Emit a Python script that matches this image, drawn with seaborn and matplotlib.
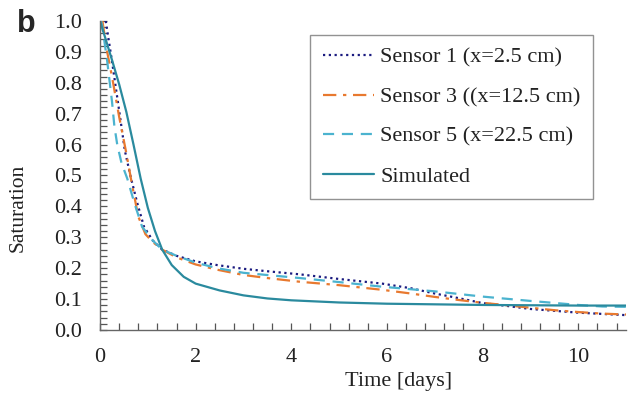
import numpy as np
import pandas as pd
import matplotlib
matplotlib.use("Agg")
import matplotlib.pyplot as plt
from matplotlib.ticker import MultipleLocator, FormatStrFormatter
import seaborn as sns

# ---- data ----
s1_t = [0.12, 0.14, 0.25, 0.4, 0.52, 0.64, 0.78, 0.92, 1.1, 1.3, 1.6, 2.0, 2.45, 3.0, 3.5,
        4.18, 5.0, 5.9, 6.5, 7.0, 7.5, 8.0, 8.5, 9.0, 9.5, 10.0, 10.5, 11.0]
s1_v = [1.0, 0.98, 0.87, 0.71, 0.58, 0.496, 0.41, 0.334, 0.29, 0.26, 0.24, 0.222, 0.21, 0.198, 0.19,
        0.18, 0.165, 0.15, 0.135, 0.118, 0.103, 0.087, 0.078, 0.068, 0.062, 0.056, 0.052, 0.048]

s3_t = [0.05, 0.15, 0.25, 0.4, 0.54, 0.67, 0.8, 0.95, 1.1, 1.3, 1.6, 2.0, 2.45, 3.0, 3.5,
        4.18, 5.0, 5.9, 6.5, 7.0, 7.5, 8.0, 8.5, 9.0, 9.5, 10.0, 10.5, 11.0]
s3_v = [1.0, 0.9, 0.82, 0.69, 0.58, 0.47, 0.367, 0.31, 0.285, 0.26, 0.235, 0.212, 0.195, 0.178, 0.168,
        0.156, 0.145, 0.13, 0.118, 0.107, 0.097, 0.088, 0.08, 0.072, 0.064, 0.058, 0.053, 0.05]

s5_t = [0.02, 0.05, 0.15, 0.25, 0.3, 0.36, 0.45, 0.57, 0.72, 0.88, 1.1, 1.3, 1.6, 2.0, 2.45, 3.0,
        4.18, 5.0, 5.9, 7.0, 8.0, 9.0, 10.0, 10.5, 11.0]
s5_v = [1.0, 0.98, 0.87, 0.74, 0.66, 0.6, 0.54, 0.49, 0.41, 0.334, 0.29, 0.26, 0.24, 0.218, 0.2, 0.185,
        0.168, 0.155, 0.14, 0.125, 0.108, 0.094, 0.081, 0.076, 0.075]

sim_t = [0.0, 0.1, 0.25, 0.4, 0.55, 0.7, 0.85, 1.0, 1.15, 1.3, 1.5, 1.75, 2.0, 2.5, 3.0, 3.5,
         4.0, 5.0, 6.0, 7.0, 8.0, 9.0, 10.0, 11.0]
sim_v = [1.0, 0.95, 0.874, 0.795, 0.706, 0.60, 0.49, 0.395, 0.32, 0.26, 0.21, 0.172, 0.15, 0.128, 0.112, 0.102,
         0.096, 0.089, 0.085, 0.083, 0.081, 0.08, 0.079, 0.079]

labels = ["Sensor 1 (x=2.5 cm)", "Sensor 3 ((x=12.5 cm)", "Sensor 5 (x=22.5 cm)", "Simulated"]
x_ticks = [0, 2, 4, 6, 8, 10]

sns.set_style("white")
plt.rcParams["font.family"] = ["Liberation Serif", "DejaVu Serif"]

fig = plt.figure(figsize=(6.35, 3.95), dpi=100)
ax = fig.add_axes([0.1575, 0.1646, 0.8285, 0.7824])

series = [
    (s1_t, s1_v, labels[0], "#1b1b80", (0, (1, 1.6)), 1.6),
    (s3_t, s3_v, labels[1], "#e8792f", (0, (6, 3, 1.5, 3)), 1.6),
    (s5_t, s5_v, labels[2], "#4bb3cf", (0, (5, 3.5)), 1.6),
    (sim_t, sim_v, labels[3], "#2a8a9e", "-", 1.6),
]
for t, v, lab, col, ls, lw in series:
    df = pd.DataFrame({"t": t, "v": v})
    sns.lineplot(data=df, x="t", y="v", ax=ax, color=col, linestyle=ls, linewidth=lw, label=lab)

ax.set_xlim(0, 11)
ax.set_ylim(0, 1.0)
ax.set_xticks(x_ticks)
ax.set_yticks(np.arange(0, 1.01, 0.1))
ax.yaxis.set_major_formatter(FormatStrFormatter("%.1f"))
ax.xaxis.set_minor_locator(MultipleLocator(0.4))
ax.yaxis.set_minor_locator(MultipleLocator(0.02))
ax.tick_params(axis="both", which="both", direction="in", length=5, width=0.9, color="#555555",
               labelsize=16, labelcolor="#222222")
ax.tick_params(axis="y", which="both", pad=13, left=True)
ax.tick_params(axis="x", which="both", pad=13, bottom=True)

for s in ["top", "right"]:
    ax.spines[s].set_visible(False)
for s in ["left", "bottom"]:
    ax.spines[s].set_color("#666666")
    ax.spines[s].set_linewidth(1.0)

ax.set_xlabel("Time [days]", fontsize=16, color="#222222")
ax.set_ylabel("Saturation", fontsize=15.5, color="#222222")
ax.xaxis.set_label_coords(0.567, -0.135)
ax.yaxis.set_label_coords(-0.137, 0.395)

leg = ax.legend(loc="upper right", bbox_to_anchor=(0.937, 0.955), fontsize=16,
                frameon=True, fancybox=False, edgecolor="#777777", handlelength=2.3,
                labelspacing=0.86, handletextpad=0.3, borderpad=0.55, borderaxespad=0)
leg.get_frame().set_linewidth(1.0)
for txt in leg.get_texts():
    txt.set_color("#222222")

fig.text(0.027, 0.939, "b", fontsize=22, fontweight="bold", family="Liberation Sans",
         va="center", ha="left")

fig.savefig("out.png", dpi=100)
